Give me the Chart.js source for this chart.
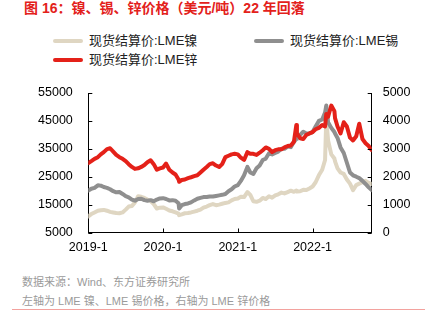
<!DOCTYPE html>
<html>
<head>
<meta charset="utf-8">
<script src="https://cdn.jsdelivr.net/npm/chart.js@4.4.1/dist/chart.umd.min.js"></script>
<style>
  html, body { margin: 0; padding: 0; background: #fff; }
  body {
    width: 427px; height: 326px; position: relative; overflow: hidden;
    font-family: "Liberation Sans", Arial, "Noto Sans CJK SC", sans-serif;
  }
  #title {
    position: absolute; left: 24px; top: 0; white-space: nowrap;
    font-size: 14px; line-height: 16px; font-weight: bold; color: #e3211b;
  }
  .item {
    position: absolute; height: 18px; line-height: 18px; white-space: nowrap;
    font-size: 13px; color: #222;
  }
  .swatch {
    display: inline-block; width: 30px; height: 4px; border-radius: 2px;
    vertical-align: middle; margin-right: 6px; position: relative; top: -1px;
  }
  #chartBox { position: absolute; left: 0; top: 70px; width: 427px; height: 200px; }
  .note {
    position: absolute; left: 22px; white-space: nowrap;
    font-size: 11px; line-height: 14px; color: #9a9a9a;
  }
  #rule { position: absolute; left: 12px; width: 413px; top: 309px; height: 1px; background: #f3a29e; }
</style>
</head>
<body>
<div id="title">图 16：镍、锡、锌价格（美元/吨）22 年回落</div>
<div id="legend"></div>
<div id="chartBox"><canvas id="chart" width="427" height="200"></canvas></div>
<div class="note" style="top:275px">数据来源：Wind、东方证券研究所</div>
<div class="note" style="top:294px">左轴为 LME 镍、LME 锡价格，右轴为 LME 锌价格</div>
<div id="rule"></div>

<script>
/* ===== Data ===== */

const seriesNames = ['现货结算价:LME镍', '现货结算价:LME锡', '现货结算价:LME锌'];

const dates = [
  '2019-01-01','2019-01-16','2019-02-01','2019-02-16','2019-03-01','2019-03-16','2019-04-01','2019-04-16',
  '2019-05-01','2019-05-16','2019-06-01','2019-06-16','2019-07-01','2019-07-16','2019-08-01','2019-08-16',
  '2019-09-01','2019-09-16','2019-10-01','2019-10-16','2019-11-01','2019-11-16','2019-12-01','2019-12-16',
  '2020-01-01','2020-01-16','2020-02-01','2020-02-16','2020-03-01','2020-03-16','2020-03-19','2020-04-01',
  '2020-04-16','2020-05-01','2020-05-16','2020-06-01','2020-06-16','2020-07-01','2020-07-16','2020-08-01',
  '2020-08-16','2020-09-01','2020-09-16','2020-10-01','2020-10-16','2020-11-01','2020-11-16','2020-12-01',
  '2020-12-16',
  '2021-01-01','2021-01-16','2021-02-01','2021-02-16','2021-03-01','2021-03-16','2021-04-01','2021-04-16',
  '2021-05-01','2021-05-16','2021-06-01','2021-06-16','2021-07-01','2021-07-16','2021-08-01','2021-08-16',
  '2021-09-01','2021-09-16','2021-10-01','2021-10-13','2021-10-16','2021-11-01','2021-11-16','2021-12-01',
  '2021-12-16',
  '2022-01-01','2022-01-16','2022-02-01','2022-02-16','2022-03-01','2022-03-07','2022-03-16','2022-04-01',
  '2022-04-16','2022-04-19','2022-05-01','2022-05-16','2022-06-01','2022-06-16','2022-07-01','2022-07-16',
  '2022-08-01','2022-08-16','2022-09-01','2022-09-16','2022-10-01','2022-10-16'
];

// LME nickel, USD/t (left axis)
const nickel = [
  10800, 11600, 12200, 12800, 13000, 13100, 12800, 12400, 12200, 12000, 11900, 12200,
  13200, 14300, 14500, 15800, 18000, 17800, 17400, 16800, 16300, 15200, 13600, 13900,
  14000, 13500, 12900, 12600, 12200, 11800, 11200, 11500, 11900, 12000, 12200, 12500, 12800,
  13200, 13900, 14300, 14800, 15200, 14800, 15000, 15300, 15600, 15800, 16500, 17000,
  17200, 17800, 17700, 19500, 18500, 16200, 16000, 16400, 17400, 17000, 18000, 17500, 18300,
  18700, 19300, 19000, 19500, 20000, 19600, 20000, 19700, 19800, 20300, 20200, 20800,
  21500, 23000, 25500, 27500, 31000, 46000, 38000, 33000, 31500, 30500, 28000,
  26500, 26000, 24000, 22500, 20200, 22000, 22500, 23000, 23500, 22800, 22400
];

// LME tin, USD/t (left axis)
const tin = [
  20000, 20700, 21000, 21900, 21800, 21300, 21000, 20500, 19800, 19400, 19500, 18800,
  18000, 17600, 16800, 16400, 17000, 17100, 16600, 16400, 16600, 16200, 16800, 17200,
  17300, 17000, 16500, 16600, 16400, 15500, 13600, 14800, 15200, 15400, 15800, 16500, 17100,
  17400, 17700, 17700, 17900, 17900, 18100, 18300, 18500, 18800, 19800, 20500, 21500,
  22000, 23500, 25500, 28500, 26500, 26000, 28000, 29000, 31000, 31500, 33400, 33000, 33500,
  34000, 35000, 35000, 35800, 35600, 37500, 38500, 39000, 40000, 41100, 40500, 40500,
  41000, 43000, 45000, 45500, 48000, 50500, 44500, 42500, 41000, 40500, 38900,
  35500, 33500, 30000, 26500, 25500, 25000, 24500, 23500, 22400, 21200, 20200
];

// LME zinc, USD/t (right axis)
const zinc = [
  2490, 2560, 2640, 2700, 2800, 2880, 2990, 3020, 2900, 2780, 2700, 2640,
  2560, 2450, 2350, 2280, 2300, 2350, 2420, 2520, 2590, 2450, 2250, 2300,
  2330, 2470, 2250, 2150, 2080, 1900, 1820, 1880, 1900, 1950, 1980, 2020, 2050,
  2150, 2250, 2350, 2450, 2480, 2400, 2350, 2450, 2700, 2750, 2800, 2820,
  2800, 2680, 2600, 2880, 2820, 2820, 2780, 2860, 2950, 3050, 3000, 2880, 2950,
  2980, 2980, 3050, 3100, 3120, 3250, 3850, 3550, 3380, 3350, 3500, 3550,
  3600, 3700, 3750, 3850, 3800, 4250, 4150, 4550, 4350, 4100, 3800,
  3550, 3950, 3800, 3400, 3300, 3450, 3900, 3350, 3200, 3100, 2950
];

const tickDates = ['2019-01-01', '2020-01-01', '2021-01-01', '2022-01-01'];
const tickLabels = ['2019-1', '2020-1', '2021-1', '2022-1'];

const colors = ['#dfd6c2', '#8f8f8f', '#e42119'];

/* ===== Helpers ===== */

// months since 2019-01-01
function toMonth(s) {
  const [y, m, d] = s.split('-').map(Number);
  const days = new Date(y, m, 0).getDate();
  return (y - 2019) * 12 + (m - 1) + (d - 1) / days;
}

const xs = dates.map(toMonth);
const tickPos = tickDates.map(toMonth);
const points = vals => vals.map((v, i) => ({ x: xs[i], y: v }));

/* ===== Inner tick marks ===== */

const innerTicks = {
  id: 'innerTicks',
  afterDatasetsDraw(chart) {
    const { ctx, chartArea: a, scales } = chart;
    const len = 4;
    ctx.save();
    ctx.strokeStyle = '#000';
    ctx.lineWidth = 1;
    ctx.beginPath();
    scales.y.ticks.forEach(t => {
      const y = Math.round(scales.y.getPixelForValue(t.value)) + 0.5;
      ctx.moveTo(a.left, y); ctx.lineTo(a.left + len, y);
    });
    scales.y2.ticks.forEach(t => {
      const y = Math.round(scales.y2.getPixelForValue(t.value)) + 0.5;
      ctx.moveTo(a.right, y); ctx.lineTo(a.right - len, y);
    });
    scales.x.ticks.forEach(t => {
      const x = Math.round(scales.x.getPixelForValue(t.value)) + 0.5;
      ctx.moveTo(x, a.bottom); ctx.lineTo(x, a.bottom - len);
    });
    ctx.stroke();
    ctx.restore();
  }
};

/* ===== Chart ===== */

Chart.defaults.font.family = '"Liberation Sans", Arial, sans-serif';
Chart.defaults.font.size = 12.5;
Chart.defaults.color = '#000';

const lineStyle = { borderWidth: 4, pointRadius: 0, tension: 0, borderJoinStyle: 'round', borderCapStyle: 'round' };

const chart = new Chart(document.getElementById('chart'), {
  type: 'line',
  data: {
    datasets: [
      { label: seriesNames[0], data: points(nickel), borderColor: colors[0], yAxisID: 'y', order: 3, ...lineStyle },
      { label: seriesNames[1], data: points(tin), borderColor: colors[1], yAxisID: 'y', order: 2, ...lineStyle },
      { label: seriesNames[2], data: points(zinc), borderColor: colors[2], yAxisID: 'y2', order: 1, ...lineStyle }
    ]
  },
  options: {
    responsive: false,
    animation: false,
    layout: { padding: { top: 11.4, bottom: 0, left: 0, right: 0 } },
    plugins: { legend: { display: false }, tooltip: { enabled: false } },
    scales: {
      x: {
        type: 'linear',
        min: 0,
        max: xs[xs.length - 1],
        grid: { display: false, drawTicks: false },
        border: { display: true, color: '#000', width: 1 },
        afterBuildTicks: s => { s.ticks = tickPos.map(v => ({ value: v })); },
        afterFit: s => { s.height = 37.5; },
        ticks: {
          padding: 8,
          maxRotation: 0,
          autoSkip: false,
          callback: v => tickLabels[tickPos.indexOf(v)]
        }
      },
      y: {
        position: 'left',
        min: 5000, max: 55000,
        grid: { display: false, drawTicks: false },
        border: { display: true, color: '#000', width: 1 },
        afterFit: s => { s.width = 88.3; },
        ticks: { stepSize: 10000, padding: 15.5, callback: v => String(v) }
      },
      y2: {
        position: 'right',
        min: 0, max: 5000,
        grid: { display: false, drawTicks: false },
        border: { display: true, color: '#000', width: 1 },
        afterFit: s => { s.width = 55.3; },
        ticks: { stepSize: 1000, padding: 11, callback: v => String(v) }
      }
    }
  },
  plugins: [innerTicks]
});

/* ===== HTML legend ===== */

const legendSpots = [
  { left: 53, top: 32 },
  { left: 254, top: 32 },
  { left: 53, top: 51 }
];

const legend = document.getElementById('legend');
chart.data.datasets.forEach((ds, i) => {
  const item = document.createElement('div');
  item.className = 'item';
  item.style.left = legendSpots[i].left + 'px';
  item.style.top = legendSpots[i].top + 'px';
  const sw = document.createElement('span');
  sw.className = 'swatch';
  sw.style.background = ds.borderColor;
  item.appendChild(sw);
  item.appendChild(document.createTextNode(ds.label));
  legend.appendChild(item);
});
</script>
</body>
</html>
